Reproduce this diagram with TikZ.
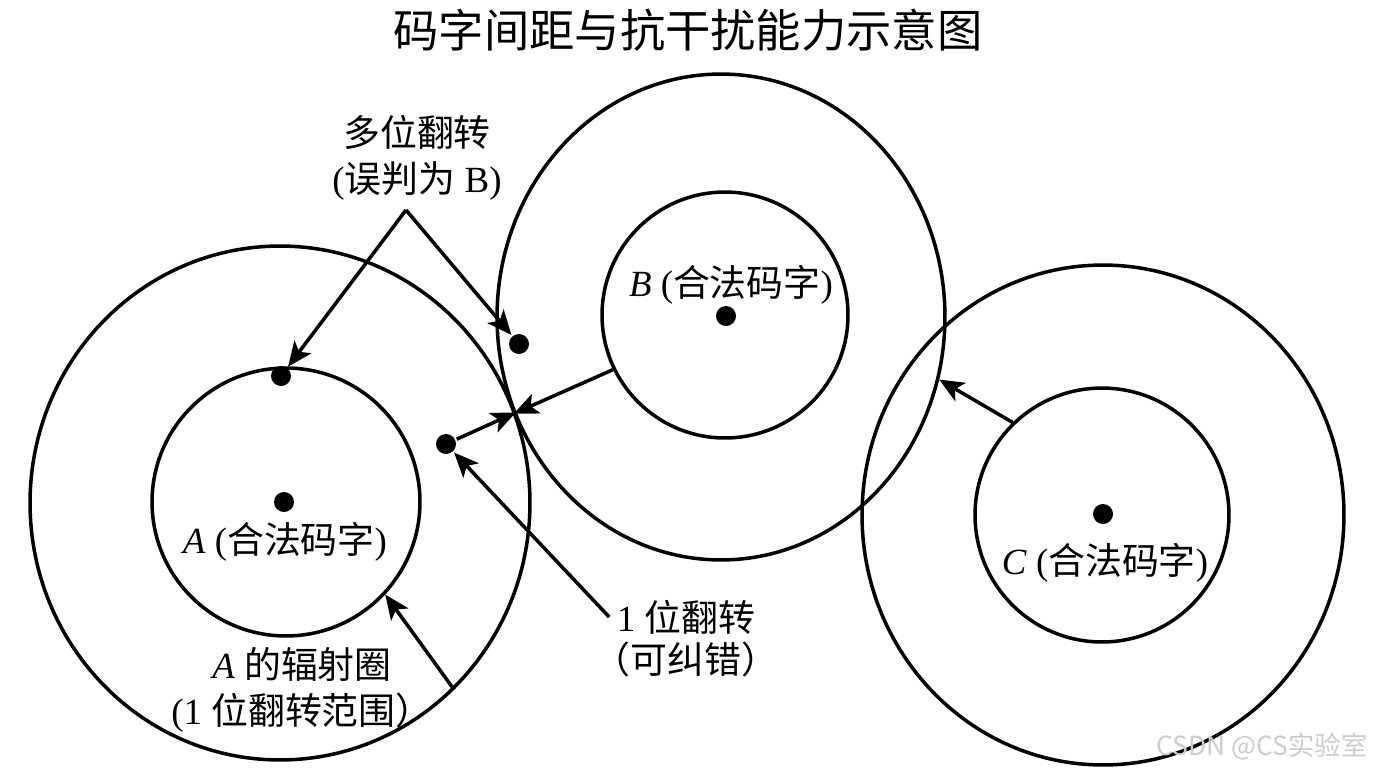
\documentclass[tikz,border=0pt]{standalone}
\usepackage{fontspec}
\setmainfont{Liberation Serif}
\newfontfamily\cjk{Noto Sans CJK SC}
\usetikzlibrary{arrows.meta, shapes.geometric, positioning}
\newcommand{\zh}[1]{{\cjk #1}}

\begin{document}
\begin{tikzpicture}[%
    >={Stealth[length=14pt, width=12pt, inset=3.5pt]},
    x=0.02cm, y=-0.02cm,
    line width=2pt,
    ring/.style={circle, draw, inner sep=0pt},
    outer/.style={ellipse, draw, inner sep=0pt},
    codeword/.style={circle, fill, inner sep=0pt, minimum size=0.4cm},
    every node/.style={font=\fontsize{21}{26}\selectfont}
]
\useasboundingbox (0,0) rectangle (1376,768);

% title
\node[font=\fontsize{25.8}{31}\selectfont] (title) at (688,30)
    {\zh{码字间距与抗干扰能力示意图}};

% radiation rings around A, B, C
\node[outer, minimum width=10cm, minimum height=10.28cm] (outerA) at (280,503) {};
\node[ring, minimum size=5.36cm] (innerA) at (286,502) {};
\node[outer, minimum width=8.96cm, minimum height=9.72cm] (outerB) at (721,317) {};
\node[ring, minimum size=4.92cm] (innerB) at (725,315) {};
\node[outer, minimum width=9.64cm, minimum height=10cm] (outerC) at (1103,515) {};
\node[ring, minimum size=5.08cm] (innerC) at (1102,515) {};

% codewords and received words
\node[codeword] (dotA) at (284,502) {};
\node[codeword] (dotB) at (726,316) {};
\node[codeword] (dotC) at (1103,514) {};
\node[codeword] (dotTop) at (281,376) {};
\node[codeword] (dotEdge) at (519,344) {};
\node[codeword] (dotNear) at (446,444) {};

% labels
\node (labA) at (285,542) {\textit{A} (\zh{合法码字})};
\node (labB) at (731,285) {\textit{B} (\zh{合法码字})};
\node (labC) at (1105,563) {\textit{C} (\zh{合法码字})};
\node[align=center] (multi) at (417,158)
    {\zh{多位翻转}\\(\zh{误判为} B)};
\node[align=center] (ringA) at (302,690)
    {\textit{A} \zh{的辐射圈}\\(1 \zh{位翻转范围）}};
\node (flipOne) at (686,617) {1 \zh{位翻转}};
\node[below=-4pt of flipOne] (flipNote) {\zh{（可纠错）}};

% multi-bit flips
\coordinate (apex) at (406,210);
\draw[->] (apex) -- (dotTop);
\draw[->] (apex) -- (dotEdge);

% 1-bit flip and ring edges
\draw[->] (flipOne.west) -- (dotNear);
\draw[->] (dotNear) -- (outerA.21);
\draw[->] (outerA.-47) -- (innerA.-43);
\draw[->] (innerB.206) -- (outerB.205);
\draw[->] (innerC.134) -- (outerB.-16);

% watermark
\node[font=\fontsize{15}{18}\selectfont\cjk, text=gray!40] (mark) at (1262,747)
    {CSDN @CS实验室};

\end{tikzpicture}
\end{document}
